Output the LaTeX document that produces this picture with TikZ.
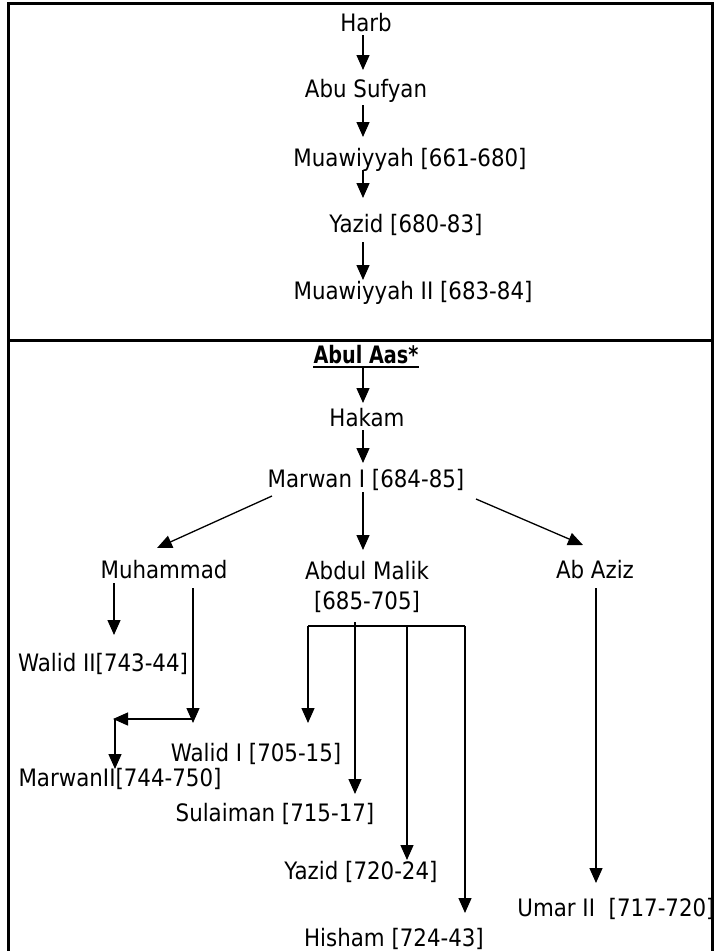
\documentclass[tikz,border=0pt]{standalone}
\usepackage{fontspec}
\setmainfont{DejaVu Sans}[FakeStretch=0.89]
\newfontfamily\abulfont{DejaVu Sans}[FakeStretch=0.80]
\usetikzlibrary{arrows.meta}
\begin{document}
\begin{tikzpicture}[x=1pt,y=-1pt,
  txt/.style={inner sep=0pt, anchor=base, font=\fontsize{24}{30}\selectfont},
  arr/.style={line width=1.3pt, -{Triangle[length=15pt,width=13pt]}},
  plain/.style={line width=1.3pt},
  frame/.style={line width=3pt}]
\useasboundingbox (0,0) rectangle (714,951);
% frame
\draw[frame] (8,951) -- (8,3) -- (712,3) -- (712,951);
\draw[frame] (8,340) -- (712,340);
% upper part
\node[txt] (harb) at (366,31) {Harb};
\node[txt] (abus) at (366,97) {Abu Sufyan};
\node[txt] (muaw) at (410,166) {Muawiyyah [661-680]};
\node[txt] (yaz1) at (406,232) {Yazid [680-83]};
\node[txt] (muaw2) at (413,299) {Muawiyyah II [683-84]};
\coordinate (h-o) at (363,35);  \coordinate (as-i) at (363,70);
\coordinate (as-o) at (363,105); \coordinate (mu-i) at (363,137);
\coordinate (mu-o) at (363,170); \coordinate (y1-i) at (363,198);
\coordinate (y1-o) at (363,242); \coordinate (m2-i) at (363,280);
\draw[arr] (h-o) -- (as-i);
\draw[arr] (as-o) -- (mu-i);
\draw[arr] (mu-o) -- (y1-i);
\draw[arr] (y1-o) -- (m2-i);
% lower part
\node[txt, font=\fontsize{24}{30}\abulfont\bfseries] (abul) at (366,363) {Abul Aas*};
\draw[line width=1.8pt] ([yshift=-4pt]abul.base west) -- ([yshift=-4pt]abul.base east);
\node[txt] (hakam) at (367,426) {Hakam};
\node[txt] (marwan) at (366,487) {Marwan I [684-85]};
\node[txt] (muh) at (164,578) {Muhammad};
\node[txt, anchor=north, align=center] (abdm) at (367,560.8) {Abdul Malik\\{[685-705]}};
\node[txt] (abaz) at (595,578) {Ab Aziz};
\node[txt] (walid2) at (103,671) {Walid II[743-44]};
\node[txt] (walid1) at (256,761) {Walid I [705-15]};
\node[txt] (marwan2) at (120,786) {MarwanII[744-750]};
\node[txt] (sulai) at (275,821) {Sulaiman [715-17]};
\node[txt] (yaz2) at (361,879) {Yazid [720-24]};
\node[txt] (umar) at (616,916) {Umar II~~[717-720]};
\node[txt] (hisham) at (394,946) {Hisham [724-43]};
% connectors
\coordinate (aa-o) at (363,368); \coordinate (hk-i) at (363,403);
\coordinate (hk-o) at (363,430); \coordinate (mw-i) at (363,463);
\draw[arr] (aa-o) -- (hk-i);
\draw[arr] (hk-o) -- (mw-i);
\coordinate (mw-l) at (272,496); \coordinate (mh-i) at (157,548);
\coordinate (mw-c) at (363,492); \coordinate (am-i) at (363,550);
\coordinate (mw-r) at (476,499); \coordinate (az-i) at (583,545);
\draw[arr] (mw-l) -- (mh-i);
\draw[arr] (mw-c) -- (am-i);
\draw[arr] (mw-r) -- (az-i);
% Muhammad branch
\coordinate (mh-l) at (114,583); \coordinate (w2-i) at (114,635);
\draw[arr] (mh-l) -- (w2-i);
\coordinate (mh-r) at (193,588); \coordinate (mh-d) at (193,723);
\coordinate (hz-r) at (193,719); \coordinate (hz-l) at (113,719);
\coordinate (m2-t) at (115,719); \coordinate (mr2-i) at (115,769);
\draw[arr] (mh-r) -- (mh-d);
\draw[arr] (hz-r) -- (hz-l);
\draw[arr] (m2-t) -- (mr2-i);
% Abdul Malik bracket
\coordinate (br-l) at (308,626); \coordinate (br-r) at (465,626);
\draw[plain] (br-l) -- (br-r);
\coordinate (w1-i) at (308,723);
\coordinate (su-o) at (355,622); \coordinate (su-i) at (355,794);
\coordinate (y2-o) at (407,626); \coordinate (y2-i) at (407,860);
\coordinate (hi-i) at (465,913);
\draw[arr] (br-l) -- (w1-i);
\draw[arr] (su-o) -- (su-i);
\draw[arr] (y2-o) -- (y2-i);
\draw[arr] (br-r) -- (hi-i);
% Ab Aziz branch
\coordinate (az-o) at (596,588); \coordinate (um-i) at (596,883);
\draw[arr] (az-o) -- (um-i);
\end{tikzpicture}
\end{document}
